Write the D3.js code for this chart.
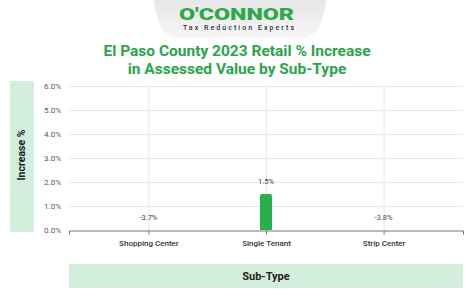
<!DOCTYPE html>
<html><head><meta charset="utf-8">
<script src="https://cdn.jsdelivr.net/npm/d3@7"></script>
<style>html,body{margin:0;padding:0;background:#fff;}svg{display:block;font-family:Roboto,"Noto Sans",sans-serif;}</style>
</head><body>
<script>
const categories = ["Shopping Center", "Single Tenant", "Strip Center"];
const values = [-3.7, 1.5, -3.8];
const yTicks = [0, 1, 2, 3, 4, 5, 6];
const titleLines = ["El Paso County 2023 Retail % Increase", "in Assessed Value by Sub-Type"];

const W = 474, H = 294;
const svg = d3.select("body").append("svg").attr("width", W).attr("height", H);

// Logo banner
const defs = svg.append("defs");
const g1 = defs.append("linearGradient").attr("id","lg").attr("x1",0).attr("y1",0).attr("x2",0).attr("y2",1);
g1.append("stop").attr("offset","0%").attr("stop-color","#e6e6e6");
g1.append("stop").attr("offset","100%").attr("stop-color","#f6f6f6");
svg.append("path")
  .attr("d","M154,0 L326,0 Q322,30 312,35 Q308,38 300,38 L180,38 Q172,38 168,35 Q158,30 154,0 Z")
  .attr("fill","url(#lg)");
svg.append("text").attr("x",179).attr("y",20).attr("textLength",115).attr("lengthAdjust","spacingAndGlyphs")
  .attr("font-size",16).attr("font-weight",900).attr("fill","#2ea84a").text("O'CONNOR");
svg.append("text").attr("x",183).attr("y",30).attr("textLength",111).attr("lengthAdjust","spacing")
  .attr("font-size",7).attr("font-weight",500).attr("fill","#333").text("Tax Reduction Experts");

// Title
svg.append("g").selectAll("text").data(titleLines).join("text")
  .attr("x", 237).attr("y", (d,i)=>56 + i*18).attr("text-anchor","middle")
  .attr("font-size",15.5).attr("font-weight",700).attr("fill","#2ba44a").text(d=>d);

// Scales
const x = d3.scalePoint().domain(categories).range([69,463]).padding(0.675);
const y = d3.scaleLinear().domain([0,6]).range([230,86]);

// Left label box
svg.append("rect").attr("x",10).attr("y",81).attr("width",24).attr("height",151).attr("fill","#d4eedd");
svg.append("text").attr("transform","translate(25,155) rotate(-90)").attr("text-anchor","middle")
  .attr("font-size",10.5).attr("font-weight",700).attr("fill","#222").text("Increase %");

// Bottom label box
svg.append("rect").attr("x",69).attr("y",264).attr("width",394).attr("height",24).attr("fill","#d4eedd");
svg.append("text").attr("x",266).attr("y",280).attr("text-anchor","middle")
  .attr("font-size",11).attr("font-weight",700).attr("fill","#222").text("Sub-Type");

// Gridlines
svg.append("g").selectAll("line").data(yTicks.filter(d=>d>0)).join("line")
  .attr("x1",69).attr("x2",463).attr("y1",d=>y(d)+0.5).attr("y2",d=>y(d)+0.5)
  .attr("stroke","#e8e8e8").attr("stroke-width",1);
svg.append("g").selectAll("line").data(categories).join("line")
  .attr("x1",d=>x(d)+0.5).attr("x2",d=>x(d)+0.5).attr("y1",86).attr("y2",230)
  .attr("stroke","#e8e8e8").attr("stroke-width",1);

// Y tick labels
svg.append("g").selectAll("text").data(yTicks).join("text")
  .attr("x",61).attr("y",d=>y(d)+3).attr("text-anchor","end")
  .attr("font-size",8).attr("fill","#555").text(d=>d.toFixed(1)+"%");

// Bars
svg.append("g").selectAll("path").data(categories.map((c,i)=>({c,v:values[i]})).filter(d=>d.v>0)).join("path")
  .attr("d", d=>{
    const x0 = x(d.c)-6, x1 = x(d.c)+6, y0 = y(0), y1 = y(d.v), r = 2;
    return `M${x0},${y0} L${x0},${y1+r} Q${x0},${y1} ${x0+r},${y1} L${x1-r},${y1} Q${x1},${y1} ${x1},${y1+r} L${x1},${y0} Z`;
  })
  .attr("fill","#27b04b");

// Value labels
svg.append("g").selectAll("text").data(categories.map((c,i)=>({c,v:values[i]}))).join("text")
  .attr("x",d=>x(d.c)).attr("y",d=>y(Math.max(d.v,0))-10).attr("text-anchor","middle")
  .attr("font-size",7.5).attr("fill","#444").text(d=>d.v.toFixed(1)+"%");

// X axis
const ax = svg.append("g").attr("transform","translate(0,230.5)")
  .call(d3.axisBottom(x).tickSize(4).tickSizeOuter(4));
ax.select(".domain").attr("stroke","#777");
ax.selectAll(".tick line").attr("stroke","#777");
ax.selectAll(".tick text").attr("font-size",8).attr("fill","#333").attr("dy","1.05em")
  .attr("font-family","Roboto,sans-serif").attr("font-weight",500);
</script>
</body></html>
